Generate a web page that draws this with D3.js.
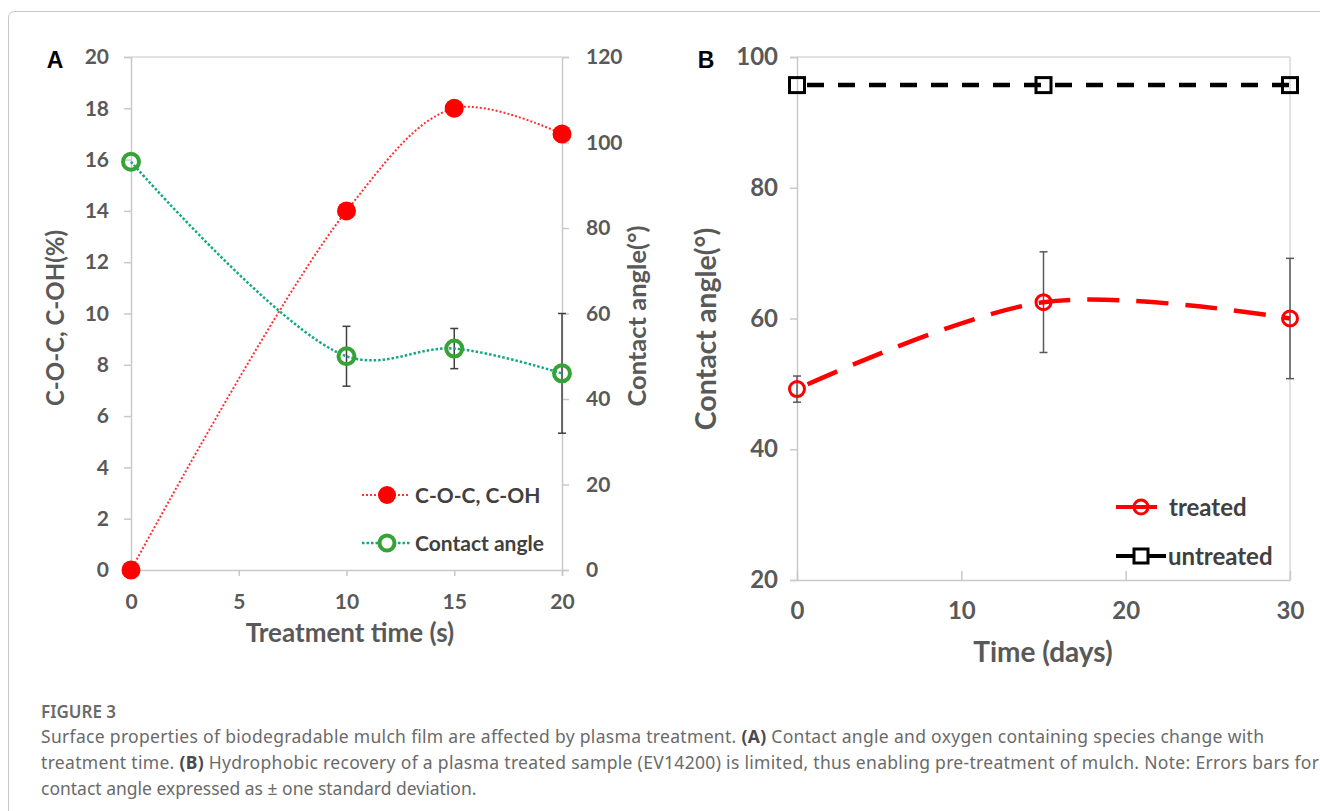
<!DOCTYPE html>
<html>
<head>
<meta charset="utf-8">
<script src="https://cdn.jsdelivr.net/npm/d3@7"></script>
<style>
  body { margin: 0; background: #fff; }
  .tick text { font-family: Lato, "Open Sans", sans-serif; font-weight: 700; fill: #595959; }
</style>
</head>
<body>
<div id="chart"></div>
<script>
// panel A data
const timeA = [0, 10, 15, 20];
const cocA = [0, 14, 18, 17];
const angleA = [95.5, 50, 51.8, 46];
const angleErrA = [0, 7, 4.7, 14];
const xTicksA = [0, 5, 10, 15, 20];
const yLeftTicksA = [0, 2, 4, 6, 8, 10, 12, 14, 16, 18, 20];
const yRightTicksA = [0, 20, 40, 60, 80, 100, 120];

// panel B data
const daysB = [0, 15, 30];
const treatedB = [49.2, 62.5, 60];
const treatedErrB = [2, 7.7, 9.2];
const untreatedB = [95.7, 95.7, 95.7];
const xTicksB = [0, 10, 20, 30];
const yTicksB = [20, 40, 60, 80, 100];

const captionLines = [
  [["Surface properties of biodegradable mulch film are affected by plasma treatment. ", 400], ["(A)", 700], [" Contact angle and oxygen containing species change with", 400]],
  [["treatment time. ", 400], ["(B)", 700], [" Hydrophobic recovery of a plasma treated sample (EV14200) is limited, thus enabling pre-treatment of mulch. Note: Errors bars for", 400]],
  [["contact angle expressed as ± one standard deviation.", 400]]
];
const captionWidths = [1223, 1278, null];

var width = 1320, height = 811;
var font = "Lato, 'Open Sans', sans-serif";
var axisGray = "#c9c9c9";

var svg = d3.select("#chart").append("svg")
  .attr("width", width).attr("height", height)
  .style("font-family", font);

svg.append("rect").attr("width", width).attr("height", height).attr("fill", "#fff");

// outer frame of the figure
svg.append("path")
  .attr("d", "M8.5,811 L8.5,18 Q8.5,11.5 15,11.5 L1320,11.5")
  .attr("fill", "none").attr("stroke", "#c8c8c8").attr("stroke-width", 1);

function styleAxis(g, size) {
  g.select(".domain").attr("stroke", axisGray).attr("stroke-width", 1.5);
  g.selectAll(".tick line").attr("stroke", axisGray).attr("stroke-width", 1.5);
  g.selectAll(".tick text").attr("font-size", size);
}

// ---------- panel A ----------
var xA = d3.scaleLinear().domain([0, 20]).range([131, 562]);
var yLA = d3.scaleLinear().domain([0, 20]).range([570, 57]);
var yRA = d3.scaleLinear().domain([0, 120]).range([570, 57]);

var gA = svg.append("g");

// top frame line
gA.append("line").attr("x1", xA(0)).attr("x2", xA(20)).attr("y1", yLA(20)).attr("y2", yLA(20))
  .attr("stroke", "#d9d9d9").attr("stroke-width", 1.5);

gA.append("g").attr("transform", "translate(0,570)")
  .call(d3.axisBottom(xA).tickValues(xTicksA).tickSize(6).tickPadding(18))
  .call(styleAxis, 21);
gA.append("g").attr("transform", "translate(131,0)")
  .call(d3.axisLeft(yLA).tickValues(yLeftTicksA).tickSize(7).tickPadding(15))
  .call(styleAxis, 21);
gA.append("g").attr("transform", "translate(562,0)")
  .call(d3.axisRight(yRA).tickValues(yRightTicksA).tickSize(7).tickPadding(17))
  .call(styleAxis, 21);

var smooth = d3.curveCatmullRom.alpha(0.5);

var lineCoc = d3.line().x((d, i) => xA(timeA[i])).y(d => yLA(d)).curve(smooth);
var lineAng = d3.line().x((d, i) => xA(timeA[i])).y(d => yRA(d)).curve(smooth);

// error bars for contact angle
var errA = gA.append("g").selectAll("g").data(angleA).enter().append("g")
  .filter((d, i) => angleErrA[i] > 0);
errA.append("line")
  .attr("x1", d => xA(timeA[angleA.indexOf(d)])).attr("x2", d => xA(timeA[angleA.indexOf(d)]))
  .attr("y1", d => yRA(d + angleErrA[angleA.indexOf(d)]))
  .attr("y2", d => yRA(d - angleErrA[angleA.indexOf(d)]))
  .attr("stroke", "#404040").attr("stroke-width", 1.5);
[1, -1].forEach(function (s) {
  errA.append("line")
    .attr("x1", d => xA(timeA[angleA.indexOf(d)]) - 4).attr("x2", d => xA(timeA[angleA.indexOf(d)]) + 4)
    .attr("y1", d => yRA(d + s * angleErrA[angleA.indexOf(d)]))
    .attr("y2", d => yRA(d + s * angleErrA[angleA.indexOf(d)]))
    .attr("stroke", "#404040").attr("stroke-width", 1.5);
});

gA.append("path").datum(angleA).attr("d", lineAng)
  .attr("fill", "none").attr("stroke", "#12a882").attr("stroke-width", 2.5)
  .attr("stroke-dasharray", "2.5,2");
gA.append("path").datum(cocA).attr("d", lineCoc)
  .attr("fill", "none").attr("stroke", "#ff3030").attr("stroke-width", 2)
  .attr("stroke-dasharray", "2,2");

gA.append("g").selectAll("circle").data(cocA).enter().append("circle")
  .attr("cx", (d, i) => xA(timeA[i])).attr("cy", d => yLA(d)).attr("r", 9.5)
  .attr("fill", "#ff0000");
gA.append("g").selectAll("circle").data(angleA).enter().append("circle")
  .attr("cx", (d, i) => xA(timeA[i])).attr("cy", d => yRA(d)).attr("r", 8)
  .attr("fill", "none").attr("stroke", "#36a336").attr("stroke-width", 4);

// legend A
var legA = gA.append("g");
legA.append("line").attr("x1", 362).attr("x2", 410).attr("y1", 495).attr("y2", 495)
  .attr("stroke", "#ff3030").attr("stroke-width", 2).attr("stroke-dasharray", "2,2");
legA.append("circle").attr("cx", 387).attr("cy", 495).attr("r", 9).attr("fill", "#ff0000");
legA.append("text").attr("x", 415).attr("y", 495).attr("dy", "0.36em")
  .attr("font-size", 21).attr("font-weight", 700).attr("fill", "#404040").text("C-O-C, C-OH");
legA.append("line").attr("x1", 362).attr("x2", 410).attr("y1", 543).attr("y2", 543)
  .attr("stroke", "#12a882").attr("stroke-width", 2.5).attr("stroke-dasharray", "2.5,2");
legA.append("circle").attr("cx", 387).attr("cy", 543).attr("r", 7.5)
  .attr("fill", "#fff").attr("stroke", "#36a336").attr("stroke-width", 4);
legA.append("text").attr("x", 415).attr("y", 543).attr("dy", "0.36em")
  .attr("font-size", 21).attr("font-weight", 700).attr("fill", "#404040").text("Contact angle");

// titles A
gA.append("text").attr("x", 350).attr("y", 633).attr("dy", "0.36em").attr("text-anchor", "middle")
  .attr("font-size", 26).attr("font-weight", 700).attr("fill", "#595959").text("Treatment time (s)");
gA.append("text").attr("transform", "translate(55,318) rotate(-90)").attr("dy", "0.36em")
  .attr("text-anchor", "middle").attr("font-size", 24).attr("font-weight", 700).attr("fill", "#595959")
  .text("C-O-C, C-OH(%)");
gA.append("text").attr("transform", "translate(637,316) rotate(-90)").attr("dy", "0.36em")
  .attr("text-anchor", "middle").attr("font-size", 25.5).attr("font-weight", 700).attr("fill", "#595959")
  .text("Contact angle(°)");
svg.append("text").attr("x", 55).attr("y", 60).attr("dy", "0.36em").attr("text-anchor", "middle")
  .attr("font-family", "'Liberation Sans', Arial, sans-serif").attr("font-weight", 700)
  .attr("font-size", 23).attr("fill", "#000").text("A");

// ---------- panel B ----------
var xB = d3.scaleLinear().domain([0, 30]).range([797, 1290]);
var yB = d3.scaleLinear().domain([20, 100]).range([580, 57]);

var gB = svg.append("g");

gB.append("line").attr("x1", xB(0)).attr("x2", xB(30)).attr("y1", yB(100)).attr("y2", yB(100))
  .attr("stroke", "#d9d9d9").attr("stroke-width", 1.5);
gB.append("line").attr("x1", xB(30)).attr("x2", xB(30)).attr("y1", yB(100)).attr("y2", yB(20))
  .attr("stroke", "#d9d9d9").attr("stroke-width", 1.5);

gB.append("g").attr("transform", "translate(0,580)")
  .call(d3.axisBottom(xB).tickValues(xTicksB).tickSizeInner(-9).tickSizeOuter(0).tickPadding(22))
  .call(styleAxis, 24);
gB.append("g").attr("transform", "translate(797,0)")
  .call(d3.axisLeft(yB).tickValues(yTicksB).tickSize(7).tickPadding(12))
  .call(styleAxis, 24);

// error bars treated
var errB = gB.append("g").selectAll("g").data(treatedB).enter().append("g");
errB.append("line")
  .attr("x1", (d, i) => xB(daysB[i])).attr("x2", (d, i) => xB(daysB[i]))
  .attr("y1", (d, i) => yB(d + treatedErrB[i])).attr("y2", (d, i) => yB(d - treatedErrB[i]))
  .attr("stroke", "#595959").attr("stroke-width", 1.5);
[1, -1].forEach(function (s) {
  errB.append("line")
    .attr("x1", (d, i) => xB(daysB[i]) - 4).attr("x2", (d, i) => xB(daysB[i]) + 4)
    .attr("y1", (d, i) => yB(d + s * treatedErrB[i])).attr("y2", (d, i) => yB(d + s * treatedErrB[i]))
    .attr("stroke", "#595959").attr("stroke-width", 1.5);
});

var lineTr = d3.line().x((d, i) => xB(daysB[i])).y(d => yB(d)).curve(smooth);
var lineUn = d3.line().x((d, i) => xB(daysB[i])).y(d => yB(d));

gB.append("path").datum(untreatedB).attr("d", lineUn)
  .attr("fill", "none").attr("stroke", "#000").attr("stroke-width", 4.5)
  .attr("stroke-dasharray", "17,14").attr("stroke-dashoffset", -10);
gB.append("path").datum(treatedB).attr("d", lineTr)
  .attr("fill", "none").attr("stroke", "#ff0000").attr("stroke-width", 4.5)
  .attr("stroke-dasharray", "32,17").attr("stroke-dashoffset", -12);

gB.append("g").selectAll("rect").data(untreatedB).enter().append("rect")
  .attr("x", (d, i) => xB(daysB[i]) - 7.5).attr("y", d => yB(d) - 7.5)
  .attr("width", 15).attr("height", 15)
  .attr("fill", "none").attr("stroke", "#000").attr("stroke-width", 3);
gB.append("g").selectAll("circle").data(treatedB).enter().append("circle")
  .attr("cx", (d, i) => xB(daysB[i])).attr("cy", d => yB(d)).attr("r", 7.5)
  .attr("fill", "none").attr("stroke", "#ff0000").attr("stroke-width", 3);

// legend B
var legB = gB.append("g");
legB.append("line").attr("x1", 1116).attr("x2", 1157).attr("y1", 507).attr("y2", 507)
  .attr("stroke", "#ff0000").attr("stroke-width", 4);
legB.append("circle").attr("cx", 1141).attr("cy", 507).attr("r", 7)
  .attr("fill", "none").attr("stroke", "#ff0000").attr("stroke-width", 3);
legB.append("text").attr("x", 1169).attr("y", 507).attr("dy", "0.36em")
  .attr("font-size", 24).attr("font-weight", 700).attr("fill", "#404040").text("treated");
legB.append("line").attr("x1", 1116).attr("x2", 1166).attr("y1", 556).attr("y2", 556)
  .attr("stroke", "#000").attr("stroke-width", 4);
legB.append("rect").attr("x", 1134).attr("y", 549).attr("width", 14).attr("height", 14)
  .attr("fill", "#fff").attr("stroke", "#000").attr("stroke-width", 3);
legB.append("text").attr("x", 1168).attr("y", 556).attr("dy", "0.36em")
  .attr("font-size", 24).attr("font-weight", 700).attr("fill", "#404040").text("untreated");

// titles B
gB.append("text").attr("x", 1043).attr("y", 652).attr("dy", "0.36em").attr("text-anchor", "middle")
  .attr("font-size", 28).attr("font-weight", 700).attr("fill", "#595959").text("Time (days)");
gB.append("text").attr("transform", "translate(706,329) rotate(-90)").attr("dy", "0.36em")
  .attr("text-anchor", "middle").attr("font-size", 28.5).attr("font-weight", 700).attr("fill", "#595959")
  .text("Contact angle(°)");
svg.append("text").attr("x", 706).attr("y", 60).attr("dy", "0.36em").attr("text-anchor", "middle")
  .attr("font-family", "'Liberation Sans', Arial, sans-serif").attr("font-weight", 700)
  .attr("font-size", 23).attr("fill", "#000").text("B");

// ---------- caption ----------
svg.append("text").attr("x", 41).attr("y", 718)
  .attr("font-family", "'Noto Sans', sans-serif").attr("font-size", 17).attr("font-weight", 600)
  .attr("fill", "#6a6a6a").text("FIGURE 3");

captionLines.forEach(function (parts, i) {
  var t = svg.append("text").attr("x", 41).attr("y", 743 + i * 26)
    .attr("font-family", "'Noto Sans', sans-serif").attr("font-size", 17.5).attr("fill", "#6a6a6a");
  if (captionWidths[i]) t.attr("textLength", captionWidths[i]).attr("lengthAdjust", "spacing");
  parts.forEach(function (p) {
    t.append("tspan").attr("font-weight", p[1]).attr("fill", p[1] === 700 ? "#4a4a4a" : "#6a6a6a").text(p[0]);
  });
});
</script>
</body>
</html>
